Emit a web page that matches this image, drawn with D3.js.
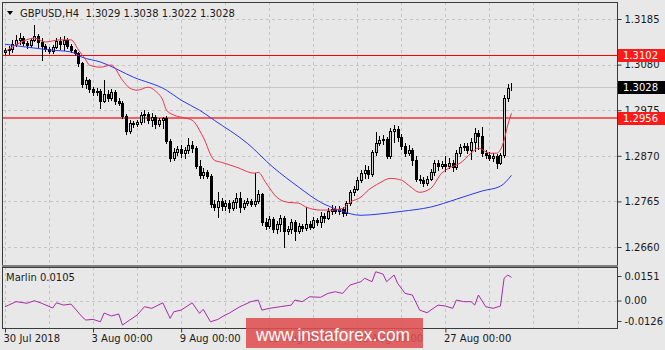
<!DOCTYPE html>
<html>
<head>
<meta charset="utf-8">
<script src="https://cdn.jsdelivr.net/npm/d3@7"></script>
<style>
  body { margin: 0; background: #e8e8e8; }
  svg { display: block; font-family: "DejaVu Sans", sans-serif; font-size: 10px; }
</style>
</head>
<body>
<div id="chart"></div>
<script>
// GBPUSD H4 candles, [open, high, low, close], one per bar from 30 Jul 2018
var bars = [
[1.3109,1.3118,1.3104,1.3114],[1.3114,1.3123,1.3104,1.3116],[1.3116,1.3137,1.3109,1.3127],[1.3127,1.3148,1.3123,1.3137],
[1.3137,1.3153,1.3127,1.3141],[1.3141,1.3146,1.3125,1.3130],[1.3130,1.3134,1.3118,1.3125],[1.3125,1.3141,1.3121,1.3137],
[1.3137,1.3171,1.3134,1.3146],[1.3146,1.3150,1.3121,1.3132],[1.3132,1.3141,1.3091,1.3123],[1.3123,1.3127,1.3111,1.3116],
[1.3116,1.3121,1.3107,1.3111],[1.3111,1.3125,1.3107,1.3121],[1.3121,1.3141,1.3118,1.3134],[1.3134,1.3144,1.3116,1.3127],
[1.3127,1.3146,1.3114,1.3137],[1.3137,1.3141,1.3118,1.3123],[1.3123,1.3127,1.3109,1.3114],[1.3114,1.3116,1.3102,1.3107],
[1.3107,1.3109,1.3077,1.3084],[1.3084,1.3086,1.3028,1.3035],[1.3035,1.3051,1.3026,1.3044],[1.3044,1.3047,1.3017,1.3024],
[1.3024,1.3028,1.3010,1.3017],[1.3017,1.3026,1.3010,1.3019],[1.3019,1.3024,1.2980,1.2996],[1.2996,1.3044,1.2994,1.3012],
[1.3012,1.3021,1.2996,1.3003],[1.3003,1.3024,1.2998,1.3017],[1.3017,1.3021,1.2989,1.2996],[1.2996,1.3003,1.2987,1.2991],
[1.2991,1.2996,1.2957,1.2961],[1.2961,1.2966,1.2920,1.2927],[1.2927,1.2952,1.2922,1.2945],[1.2945,1.2950,1.2936,1.2943],
[1.2943,1.2952,1.2938,1.2948],[1.2948,1.2971,1.2943,1.2964],[1.2964,1.2975,1.2948,1.2966],[1.2966,1.2971,1.2945,1.2952],
[1.2952,1.2968,1.2938,1.2959],[1.2959,1.2964,1.2934,1.2943],[1.2943,1.2957,1.2938,1.2952],[1.2952,1.2959,1.2934,1.2957],
[1.2957,1.2961,1.2899,1.2904],[1.2904,1.2909,1.2858,1.2865],[1.2865,1.2888,1.2860,1.2879],[1.2879,1.2892,1.2872,1.2885],
[1.2885,1.2895,1.2867,1.2876],[1.2876,1.2890,1.2865,1.2883],[1.2883,1.2911,1.2876,1.2895],[1.2895,1.2904,1.2879,1.2888],
[1.2888,1.2892,1.2842,1.2846],[1.2846,1.2860,1.2818,1.2825],[1.2825,1.2842,1.2818,1.2832],[1.2832,1.2837,1.2818,1.2823],
[1.2823,1.2828,1.2752,1.2759],[1.2759,1.2768,1.2745,1.2752],[1.2752,1.2786,1.2729,1.2766],[1.2766,1.2773,1.2745,1.2754],
[1.2754,1.2768,1.2745,1.2761],[1.2761,1.2768,1.2740,1.2749],[1.2749,1.2768,1.2745,1.2763],[1.2763,1.2784,1.2749,1.2773],
[1.2773,1.2786,1.2740,1.2752],[1.2752,1.2768,1.2747,1.2761],[1.2761,1.2773,1.2756,1.2766],[1.2766,1.2770,1.2754,1.2759],
[1.2759,1.2830,1.2754,1.2766],[1.2766,1.2791,1.2761,1.2782],[1.2782,1.2784,1.2710,1.2717],[1.2717,1.2726,1.2701,1.2708],
[1.2708,1.2731,1.2703,1.2724],[1.2724,1.2729,1.2694,1.2701],[1.2701,1.2719,1.2692,1.2712],[1.2712,1.2733,1.2696,1.2726],
[1.2726,1.2731,1.2660,1.2696],[1.2696,1.2708,1.2689,1.2701],[1.2701,1.2724,1.2692,1.2717],[1.2717,1.2722,1.2676,1.2696],
[1.2696,1.2715,1.2692,1.2708],[1.2708,1.2712,1.2696,1.2703],[1.2703,1.2752,1.2699,1.2712],[1.2712,1.2719,1.2701,1.2706],
[1.2706,1.2729,1.2703,1.2722],[1.2722,1.2726,1.2710,1.2717],[1.2717,1.2740,1.2706,1.2731],[1.2731,1.2738,1.2717,1.2726],
[1.2726,1.2749,1.2724,1.2742],[1.2742,1.2756,1.2736,1.2747],[1.2747,1.2754,1.2738,1.2742],[1.2742,1.2754,1.2736,1.2747],
[1.2747,1.2752,1.2731,1.2738],[1.2738,1.2766,1.2733,1.2761],[1.2761,1.2791,1.2756,1.2786],[1.2786,1.2800,1.2779,1.2793],
[1.2793,1.2821,1.2791,1.2814],[1.2814,1.2837,1.2809,1.2830],[1.2830,1.2849,1.2818,1.2837],[1.2837,1.2846,1.2818,1.2828],
[1.2828,1.2883,1.2823,1.2879],[1.2879,1.2925,1.2872,1.2899],[1.2899,1.2915,1.2895,1.2906],[1.2906,1.2918,1.2897,1.2909],
[1.2909,1.2913,1.2865,1.2869],[1.2869,1.2934,1.2865,1.2927],[1.2927,1.2941,1.2902,1.2932],[1.2932,1.2938,1.2904,1.2913],
[1.2913,1.2920,1.2885,1.2892],[1.2892,1.2899,1.2869,1.2876],[1.2876,1.2895,1.2872,1.2883],[1.2883,1.2888,1.2849,1.2860],
[1.2860,1.2869,1.2812,1.2816],[1.2816,1.2825,1.2807,1.2814],[1.2814,1.2821,1.2800,1.2807],[1.2807,1.2823,1.2802,1.2816],
[1.2816,1.2839,1.2814,1.2832],[1.2832,1.2860,1.2825,1.2853],[1.2853,1.2860,1.2837,1.2846],[1.2846,1.2858,1.2842,1.2851],
[1.2851,1.2869,1.2835,1.2846],[1.2846,1.2865,1.2842,1.2853],[1.2853,1.2860,1.2835,1.2844],[1.2844,1.2883,1.2839,1.2876],
[1.2876,1.2897,1.2869,1.2890],[1.2890,1.2899,1.2883,1.2892],[1.2892,1.2899,1.2876,1.2883],[1.2883,1.2911,1.2862,1.2902],
[1.2902,1.2934,1.2881,1.2922],[1.2922,1.2929,1.2885,1.2915],[1.2915,1.2936,1.2869,1.2876],[1.2876,1.2883,1.2865,1.2872],
[1.2872,1.2879,1.2860,1.2865],[1.2865,1.2876,1.2858,1.2869],[1.2869,1.2874,1.2842,1.2853],[1.2853,1.2876,1.2851,1.2872],
[1.2872,1.3010,1.2867,1.3003],[1.3003,1.3035,1.2996,1.3026],[1.3029,1.3038,1.3022,1.3028]
];

// moving averages, [bar index, price]
var redMA = [[0,1.3109],[4,1.3130],[8,1.3141],[11,1.3132],[15,1.3137],[18,1.3137],[20,1.3114],[22,1.3091],[23,1.3079],
  [26,1.3074],[29,1.3079],[32,1.3044],[34,1.3026],[36,1.3021],[39,1.3028],[41,1.3019],[43,1.2998],[44,1.2975],[46,1.2964],
  [49,1.2957],[51,1.2952],[54,1.2913],[57,1.2860],[59,1.2855],[63,1.2844],[68,1.2830],[69,1.2832],[71,1.2809],[74,1.2775],
  [77,1.2763],[80,1.2761],[82,1.2752],[86,1.2745],[89,1.2745],[92,1.2749],[94,1.2763],[97,1.2775],[99,1.2791],[102,1.2807],
  [105,1.2818],[108,1.2814],[110,1.2802],[113,1.2786],[116,1.2795],[119,1.2830],[121,1.2842],[124,1.2853],[127,1.2876],
  [129,1.2888],[132,1.2876],[134,1.2876],[136,1.2906],[137,1.2941],[138,1.2968]];
var blueMA = [[0,1.3127],[12,1.3114],[18,1.3109],[21,1.3097],[26,1.3086],[35,1.3051],[44,1.3021],[48,1.2998],[53,1.2975],
  [57,1.2952],[66,1.2899],[73,1.2844],[80,1.2798],[86,1.2763],[91,1.2745],[97,1.2733],[102,1.2736],[108,1.2742],
  [116,1.2752],[123,1.2770],[130,1.2789],[135,1.2800],[138,1.2825]];

// Marlin oscillator, [bar index, value]
var marlin = [[0,-0.0038],[1,-0.0028],[3,-0.0007],[6,-0.0017],[8,-0.0001],[10,-0.0017],[13,-0.0046],[14,-0.0014],
  [16,-0.0028],[18,-0.0022],[21,-0.0100],[22,-0.0120],[24,-0.0116],[26,-0.0131],[27,-0.0077],[29,-0.0095],[31,-0.0083],
  [32,-0.0151],[34,-0.0120],[36,-0.0089],[38,-0.0038],[40,-0.0048],[43,-0.0014],[45,-0.0110],[46,-0.0069],[48,-0.0059],
  [51,-0.0014],[53,-0.0079],[54,-0.0054],[56,-0.0131],[58,-0.0116],[60,-0.0089],[61,-0.0079],[64,-0.0038],[65,-0.0028],
  [67,-0.0007],[69,0.0003],[70,-0.0059],[72,-0.0048],[75,-0.0038],[78,-0.0028],[79,0.0003],[81,-0.0007],[83,0.0023],
  [86,0.0020],[88,0.0044],[90,0.0054],[92,0.0044],[94,0.0095],[97,0.0116],[98,0.0137],[100,0.0116],[101,0.0177],
  [103,0.0163],[104,0.0116],[106,0.0157],[107,0.0106],[109,0.0044],[111,0.0034],[113,-0.0059],[115,-0.0075],
  [118,-0.0028],[120,-0.0034],[122,-0.0048],[123,0.0003],[125,-0.0007],[127,-0.0007],[128,-0.0028],[129,0.0034],
  [131,-0.0038],[133,-0.0048],[135,-0.0034],[136,0.0137],[137,0.0157],[138,0.0143]];

var priceTicks = [1.3185, 1.3080, 1.2975, 1.2870, 1.2765, 1.2660];
var marlinTicks = [0.0151, 0, -0.0126];
var timeIdx = [0, 24, 48, 72, 96, 120];
var timeLabels = ["30 Jul 2018", "3 Aug 00:00", "9 Aug 00:00", "15 Aug 00:00", "21 Aug 00:00", "27 Aug 00:00"];
var gridIdx = [0, 12, 24, 36, 48, 60, 72, 84, 96, 108, 120, 132, 144, 156];
var levels = [1.3102, 1.2956];
var lastPrice = 1.3028;

var width = 665, height = 350;
var plot = {left: 2, right: 617, top: 2, bottom: 265};
var ind = {top: 267, bottom: 328};

var svg = d3.select("#chart")
  .append("svg")
    .attr("width", width)
    .attr("height", height);

var x = d3.scaleLinear().domain([0, 156]).range([5, 577.5]);
var y = d3.scaleLinear().domain([1.2660, 1.3185]).range([247, 19]);
var yi = d3.scaleLinear().domain([-0.0126, 0.0151]).range([321, 276]);

svg.append("rect").attr("width", width).attr("height", height).attr("fill", "#e8e8e8");

svg.append("clipPath").attr("id", "clipMain")
  .append("rect").attr("x", plot.left).attr("y", plot.top)
  .attr("width", plot.right - plot.left).attr("height", plot.bottom - plot.top);
svg.append("clipPath").attr("id", "clipInd")
  .append("rect").attr("x", plot.left).attr("y", ind.top)
  .attr("width", plot.right - plot.left).attr("height", ind.bottom - ind.top);

// grid
var grid = svg.append("g").attr("stroke", "#c4c4c4").attr("stroke-dasharray", "3,3").attr("stroke-width", 1);
gridIdx.forEach(function(i) {
  var gx = Math.round(x(i)) + 0.5;
  grid.append("line").attr("x1", gx).attr("x2", gx).attr("y1", plot.top).attr("y2", plot.bottom);
  grid.append("line").attr("x1", gx).attr("x2", gx).attr("y1", ind.top).attr("y2", ind.bottom);
});
priceTicks.forEach(function(p) {
  var gy = Math.round(y(p)) + 0.5;
  grid.append("line").attr("x1", plot.left).attr("x2", plot.right).attr("y1", gy).attr("y2", gy);
});
grid.append("line").attr("x1", plot.left).attr("x2", plot.right)
  .attr("y1", Math.round(yi(0)) + 0.5).attr("y2", Math.round(yi(0)) + 0.5);

var main = svg.append("g").attr("clip-path", "url(#clipMain)");

// bid line
main.append("line")
  .attr("x1", plot.left).attr("x2", plot.right)
  .attr("y1", Math.round(y(lastPrice)) + 0.5).attr("y2", Math.round(y(lastPrice)) + 0.5)
  .attr("stroke", "#c8c8c8");

// horizontal levels
main.append("line")
  .attr("x1", plot.left).attr("x2", plot.right)
  .attr("y1", Math.round(y(levels[0])) + 0.5).attr("y2", Math.round(y(levels[0])) + 0.5)
  .attr("stroke", "#ff0000").attr("stroke-width", 1);
main.append("line")
  .attr("x1", plot.left).attr("x2", plot.right)
  .attr("y1", Math.round(y(levels[1]))).attr("y2", Math.round(y(levels[1])))
  .attr("stroke", "#f26060").attr("stroke-width", 2);

// candles
var candle = main.selectAll(".candle").data(bars).enter().append("g");
candle.append("line")
  .attr("x1", function(d, i) { return Math.round(x(i)) + 0.5; })
  .attr("x2", function(d, i) { return Math.round(x(i)) + 0.5; })
  .attr("y1", function(d) { return Math.round(y(d[1])); })
  .attr("y2", function(d) { return Math.round(y(d[2])) + 1; })
  .attr("stroke", "#000");
candle.append("rect")
  .attr("x", function(d, i) { return Math.round(x(i)) - 0.5; })
  .attr("y", function(d) { return Math.round(y(Math.max(d[0], d[3]))) + 0.5; })
  .attr("width", 2)
  .attr("height", function(d) { return Math.max(0, Math.round(y(Math.min(d[0], d[3]))) - Math.round(y(Math.max(d[0], d[3])))); })
  .attr("fill", function(d) { return d[3] >= d[0] ? "#d0d0d0" : "#000"; })
  .attr("stroke", "#000");

// moving averages
main.append("path")
  .datum(blueMA)
  .attr("fill", "none")
  .attr("stroke", "#2a38f0")
  .attr("stroke-width", 1)
  .attr("d", d3.line()
    .x(function(d) { return x(d[0]); })
    .y(function(d) { return y(d[1]); })
    .curve(d3.curveMonotoneX));
main.append("path")
  .datum(redMA)
  .attr("fill", "none")
  .attr("stroke", "#e8344c")
  .attr("stroke-width", 1)
  .attr("d", d3.line()
    .x(function(d) { return x(d[0]); })
    .y(function(d) { return y(d[1]); })
    .curve(d3.curveMonotoneX));

// Marlin
svg.append("g").attr("clip-path", "url(#clipInd)")
  .append("path")
  .datum(marlin)
  .attr("fill", "none")
  .attr("stroke", "#a92aa9")
  .attr("stroke-width", 1)
  .attr("d", d3.line()
    .x(function(d) { return x(d[0]); })
    .y(function(d) { return yi(d[1]); }));

// borders
svg.append("rect")
  .attr("x", plot.left + 0.5).attr("y", plot.top + 0.5)
  .attr("width", plot.right - plot.left).attr("height", plot.bottom - plot.top)
  .attr("fill", "none").attr("stroke", "#3a3a3a");
svg.append("rect")
  .attr("x", plot.left).attr("y", plot.bottom)
  .attr("width", plot.right - plot.left + 1).attr("height", ind.top - plot.bottom)
  .attr("fill", "#808080");
svg.append("rect")
  .attr("x", plot.left + 0.5).attr("y", ind.top + 0.5)
  .attr("width", plot.right - plot.left).attr("height", ind.bottom - ind.top)
  .attr("fill", "none").attr("stroke", "#3a3a3a");

// right price axis
var yAxis = svg.append("g")
  .attr("transform", "translate(" + (plot.right + 0.5) + ",0)")
  .call(d3.axisRight(y).tickValues(priceTicks).tickSize(4).tickPadding(3).tickFormat(d3.format(".4f")));
var iAxis = svg.append("g")
  .attr("transform", "translate(" + (plot.right + 0.5) + ",0)")
  .call(d3.axisRight(yi).tickValues(marlinTicks).tickSize(4).tickPadding(3)
    .tickFormat(function(d) { return d === 0 ? "0.00" : d.toFixed(4); }));
var xAxis = svg.append("g")
  .attr("transform", "translate(0," + (ind.bottom + 0.5) + ")")
  .call(d3.axisBottom(x).tickValues(timeIdx).tickSize(4).tickPadding(2)
    .tickFormat(function(d, i) { return timeLabels[i]; }));
xAxis.selectAll("text").attr("text-anchor", "start").attr("dx", "-2");
[yAxis, iAxis, xAxis].forEach(function(a) {
  a.select(".domain").remove();
  a.selectAll("text").attr("fill", "#1a1a1a").style("font-family", "DejaVu Sans").style("font-size", "10px");
  a.selectAll("line").attr("stroke", "#3a3a3a");
});

// price labels on the axis
function priceTag(p, fill) {
  var cy = Math.round(y(p));
  svg.append("rect").attr("x", 618).attr("y", cy - 6).attr("width", 47).attr("height", 13).attr("fill", fill);
  svg.append("text").attr("x", 623).attr("y", cy).attr("dy", "0.35em")
    .attr("fill", "#fff").text(p.toFixed(4));
}
priceTag(levels[0], "#ff1a1a");
priceTag(lastPrice, "#000");
priceTag(levels[1], "#ff1a1a");

// header
svg.append("path").attr("d", "M7,11 L13,11 L10,15 Z").attr("fill", "#000");
svg.append("text").attr("x", 20).attr("y", 17).attr("fill", "#1a1a1a").attr("xml:space", "preserve")
  .text("GBPUSD,H4  " + bars[bars.length - 1].map(function(v) { return v.toFixed(4); }).join(" "));
svg.append("text").attr("x", 6).attr("y", 281).attr("fill", "#1a1a1a").text("Marlin 0.0105");

// watermark
svg.append("rect").attr("x", 246).attr("y", 318).attr("width", 177).attr("height", 30)
  .attr("fill", "#df4f4f").attr("opacity", 0.88);
svg.append("text").attr("x", 256).attr("y", 341)
  .attr("textLength", 154).attr("lengthAdjust", "spacingAndGlyphs")
  .style("font-family", "Liberation Sans").style("font-size", "19px")
  .attr("fill", "#fff").text("www.instaforex.com");
</script>
</body>
</html>
